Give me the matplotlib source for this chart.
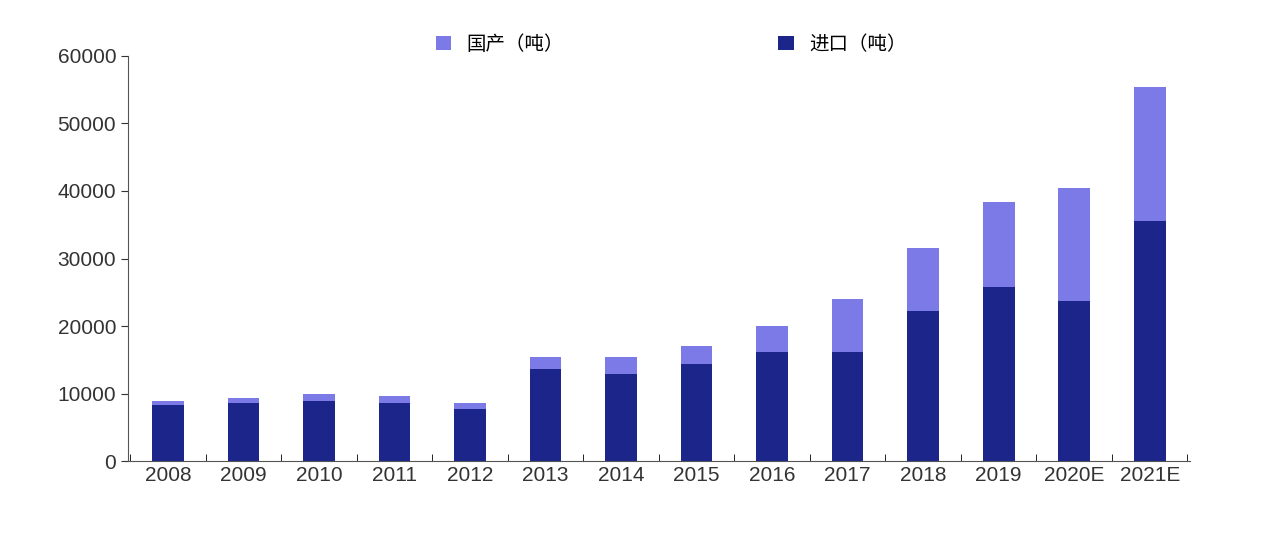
import matplotlib
matplotlib.use("Agg")
import matplotlib.pyplot as plt
import numpy as np

plt.rcParams['font.family'] = ['Liberation Sans', 'Noto Sans CJK SC', 'DejaVu Sans']

years = ['2008','2009','2010','2011','2012','2013','2014','2015','2016','2017','2018','2019','2020E','2021E']
imports = [8300, 8600, 8900, 8600, 7700, 13600, 12900, 14400, 16100, 16100, 22200, 25800, 23700, 35500]
totals = [8900, 9300, 10000, 9600, 8600, 15400, 15400, 17000, 20000, 24000, 31600, 38400, 40400, 55400]
domestic = [t - i for t, i in zip(totals, imports)]

fig = plt.figure(figsize=(12.67, 5.42), dpi=100)
ax = fig.add_axes([0.101, 0.149, 0.838, 0.748])
x = np.arange(len(years))
b1 = ax.bar(x, imports, width=0.42, color='#1b258a', label='进口（吨）')
b2 = ax.bar(x, domestic, bottom=imports, width=0.42, color='#7b7ae6', label='国产（吨）')
ax.set_ylim(0, 60000)
ax.set_xlim(-0.53, 13.53)
ax.set_yticks(range(0, 60001, 10000))
ax.set_xticks(x)
ax.set_xticklabels(years)
ax.tick_params(labelsize=15, colors='#333333', length=5)
ax.tick_params(axis='x', length=5, direction='in')
for s in ['top', 'right']:
    ax.spines[s].set_visible(False)
for s in ['left', 'bottom']:
    ax.spines[s].set_color('#555555')
ax.set_xticks(np.arange(-0.5, 14, 1), minor=True)
ax.tick_params(axis='x', which='major', length=0)
ax.tick_params(axis='x', which='minor', length=5, direction='in')
fig.legend([b2, b1], ['国产（吨）', '进口（吨）'], loc='upper left', bbox_to_anchor=(0.33, 0.97),
           ncol=2, frameon=False, fontsize=14, columnspacing=11, handlelength=0.8, handleheight=0.8,
           prop={'family': ['Noto Sans CJK SC'], 'size': 14})
fig.savefig('out.png', dpi=100, facecolor='white')
